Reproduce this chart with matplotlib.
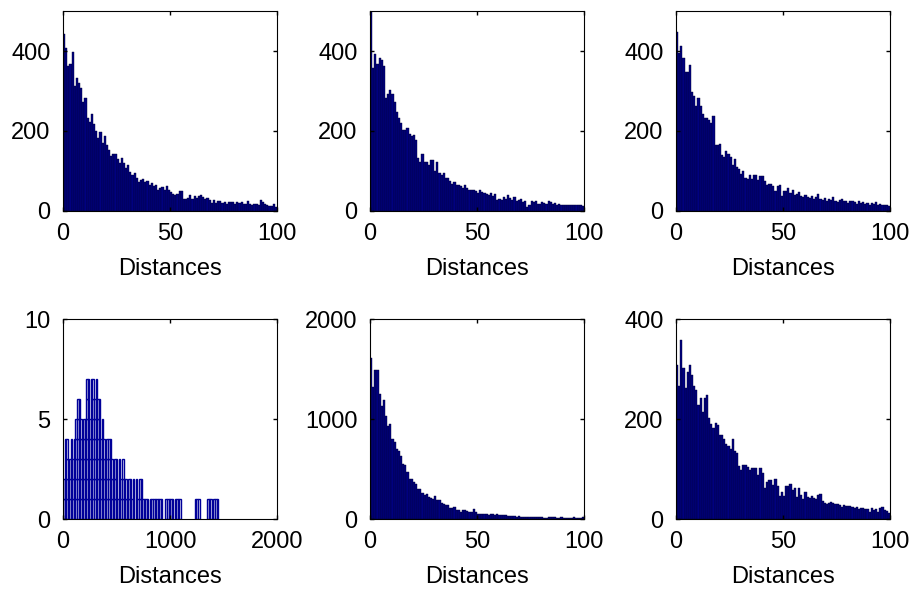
"""
거리 히스토그램 6개 패널 (MATLAB hist 스타일 재현)
"""
import numpy as np
import matplotlib
matplotlib.use('Agg')
import matplotlib.pyplot as plt

plt.rcParams['font.family'] = ['Liberation Sans', 'DejaVu Sans']
plt.rcParams['font.size'] = 17

# 패널별 히스토그램 카운트 (0~100 구간, 폭 1)
counts_a = [442, 407, 362, 367, 397, 312, 332, 320, 307, 272,
            282, 232, 222, 242, 217, 199, 182, 197, 170, 187,
            166, 152, 137, 143, 143, 131, 120, 132, 120, 107,
            116, 97, 91, 95, 82, 72, 78, 81, 73, 76,
            66, 71, 62, 64, 52, 58, 60, 52, 62, 53,
            48, 43, 41, 42, 50, 50, 31, 31, 33, 41,
            31, 37, 33, 37, 39, 35, 31, 33, 28, 20,
            27, 20, 25, 25, 20, 22, 17, 22, 22, 22,
            18, 22, 20, 22, 17, 18, 25, 17, 15, 17,
            17, 15, 27, 23, 18, 15, 12, 12, 17, 10]

counts_b = [498, 357, 392, 367, 382, 378, 363, 282, 292, 303,
            292, 272, 247, 232, 220, 203, 203, 207, 192, 187,
            191, 178, 132, 122, 143, 122, 122, 116, 127, 127,
            99, 122, 95, 91, 95, 82, 82, 76, 68, 72,
            66, 66, 62, 57, 66, 57, 53, 53, 53, 51,
            45, 53, 48, 44, 42, 40, 45, 38, 42, 28,
            30, 28, 35, 30, 40, 32, 28, 35, 25, 28,
            30, 22, 25, 10, 15, 25, 22, 25, 18, 18,
            22, 20, 18, 25, 22, 18, 20, 15, 18, 15,
            15, 14, 15, 15, 16, 14, 15, 15, 15, 12]

counts_c = [447, 395, 412, 382, 347, 347, 364, 297, 287, 262,
            282, 262, 242, 232, 232, 227, 220, 237, 166, 164,
            168, 141, 134, 151, 143, 134, 116, 131, 109, 106,
            92, 101, 82, 81, 91, 81, 91, 91, 78, 87,
            87, 74, 66, 67, 67, 62, 51, 62, 66, 37,
            51, 51, 57, 45, 52, 40, 42, 48, 38, 35,
            40, 36, 32, 38, 30, 35, 42, 30, 28, 32,
            25, 30, 28, 34, 26, 22, 28, 30, 24, 26,
            20, 24, 26, 22, 18, 25, 20, 22, 18, 20,
            16, 20, 18, 22, 15, 18, 16, 14, 15, 13]

# 0~1450 구간, 폭 14.5 (100 bins)
counts_d = [2, 4, 4, 2, 3, 4, 3, 4, 5, 6,
            6, 5, 4, 5, 5, 7, 7, 5, 7, 7,
            6, 7, 6, 6, 4, 5, 4, 3, 4, 4,
            4, 3, 2, 3, 3, 1, 3, 2, 3, 2,
            2, 1, 2, 2, 1, 2, 0, 2, 1, 2,
            2, 1, 1, 1, 1, 0, 1, 1, 1, 1,
            1, 1, 1, 1, 0, 0, 1, 1, 1, 1,
            1, 0, 1, 1, 1, 1, 0, 0, 0, 0,
            0, 0, 0, 0, 0, 1, 1, 1, 0, 0,
            0, 0, 0, 1, 1, 1, 0, 1, 1, 1]

counts_e = [1613, 1320, 1490, 1490, 1247, 1130, 1187, 1030, 930, 947,
            797, 770, 703, 680, 630, 547, 537, 470, 403, 397,
            370, 347, 303, 303, 257, 237, 247, 223, 213, 197,
            230, 190, 190, 163, 147, 137, 137, 113, 113, 123,
            90, 90, 70, 90, 90, 80, 70, 70, 97, 70,
            47, 47, 47, 47, 47, 45, 47, 47, 40, 47,
            44, 37, 40, 38, 27, 30, 28, 27, 25, 26,
            22, 25, 20, 22, 20, 18, 22, 20, 16, 18,
            18, 15, 14, 17, 20, 16, 18, 14, 15, 20,
            14, 12, 15, 12, 13, 20, 10, 12, 14, 16]

counts_f = [309, 266, 358, 303, 263, 294, 309, 289, 266, 258,
            229, 243, 214, 243, 249, 203, 191, 183, 193, 189,
            169, 169, 161, 151, 147, 141, 161, 137, 133, 106,
            98, 109, 109, 105, 99, 103, 103, 103, 89, 103,
            93, 63, 74, 78, 79, 69, 81, 66, 46, 54,
            46, 66, 66, 70, 58, 62, 45, 63, 48, 41,
            55, 45, 42, 46, 43, 40, 48, 50, 36, 32,
            30, 33, 34, 32, 30, 31, 28, 25, 28, 26,
            27, 26, 24, 22, 25, 21, 22, 23, 20, 21,
            15, 22, 18, 20, 14, 22, 25, 18, 16, 12]

bin_width_small = 1.0
bin_width_d = 14.5

# 패널 설정: (카운트, bin 폭, xlim, ylim, xticks, yticks)
panels = [
    (counts_a, bin_width_small, (0, 100), (0, 500), [0, 50, 100], [0, 200, 400]),
    (counts_b, bin_width_small, (0, 100), (0, 500), [0, 50, 100], [0, 200, 400]),
    (counts_c, bin_width_small, (0, 100), (0, 500), [0, 50, 100], [0, 200, 400]),
    (counts_d, bin_width_d, (0, 2000), (0, 10), [0, 1000, 2000], [0, 5, 10]),
    (counts_e, bin_width_small, (0, 100), (0, 2000), [0, 50, 100], [0, 1000, 2000]),
    (counts_f, bin_width_small, (0, 100), (0, 400), [0, 50, 100], [0, 200, 400]),
]

fig = plt.figure(figsize=(9.15, 5.92), dpi=100)

lefts = [63, 370, 676]
tops = [11, 319]
ax_w, ax_h = 214, 200
W, H = 915, 592

navy = (0, 0, 0.5)
navy_edge = (0, 0, 0.2)
line_blue = (0, 0, 0.6)

for idx, (counts, bw, xlim, ylim, xt, yt) in enumerate(panels):
    row, col = divmod(idx, 3)
    rect = [lefts[col] / W, 1 - (tops[row] + ax_h) / H, ax_w / W, ax_h / H]
    ax = fig.add_axes(rect)

    counts = np.asarray(counts)
    edges = np.arange(len(counts)) * bw
    if idx == 3:
        # 작은 정수 카운트: 단위 높이 칸을 쌓아 그리는 형태
        for k in range(1, counts.max() + 1):
            sel = counts >= k
            ax.bar(edges[sel], np.ones(sel.sum()), bottom=k - 1, width=bw,
                   align='edge', facecolor='white', edgecolor=line_blue,
                   linewidth=1.0)
    else:
        ax.bar(edges, counts, width=bw, align='edge', facecolor=navy,
               edgecolor=navy_edge, linewidth=0.3)

    ax.set_xlim(*xlim)
    ax.set_ylim(*ylim)
    ax.set_xticks(xt)
    ax.set_yticks(yt)
    ax.tick_params(direction='in', top=True, right=True, length=3, width=1,
                   labelsize=17)
    ax.tick_params(axis='y', pad=9)
    ax.tick_params(axis='x', pad=9)
    for sp in ax.spines.values():
        sp.set_linewidth(0.8)
    ax.set_xlabel('Distances', fontsize=17, labelpad=9)

fig.savefig('out.png', dpi=100)
